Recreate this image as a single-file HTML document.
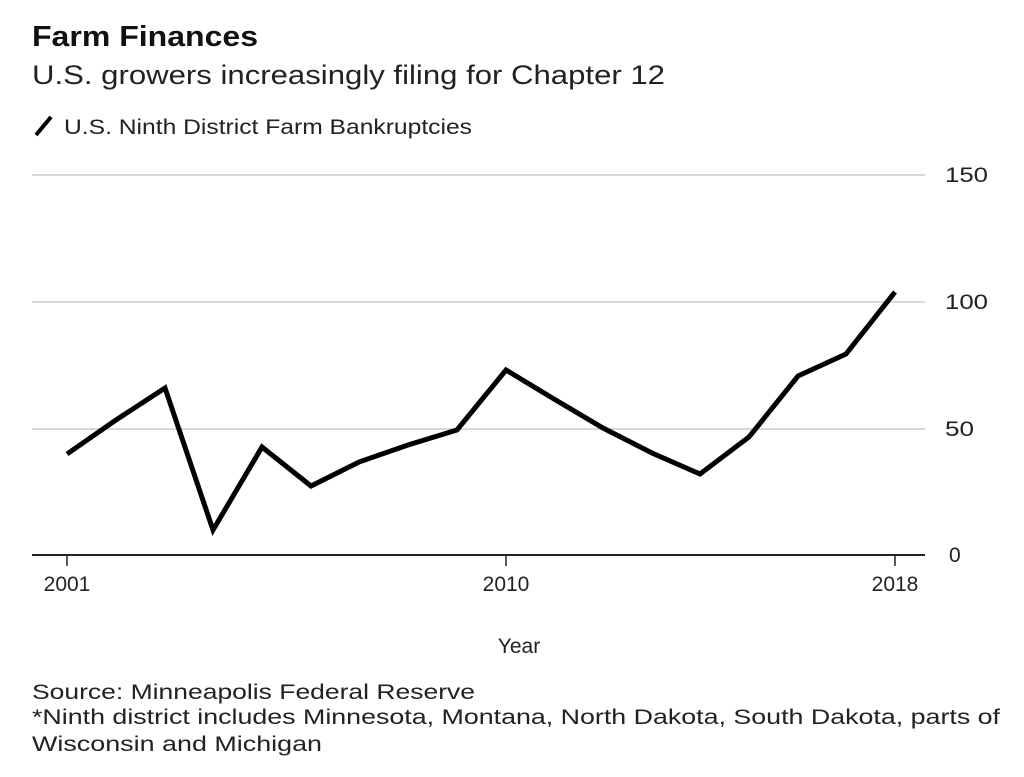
<!DOCTYPE html>
<html><head><style>
body{margin:0;background:#fff;width:1024px;height:772px;overflow:hidden;font-family:"Liberation Sans",sans-serif;color:#111}
</style></head><body>
<svg width="1024" height="772" xmlns="http://www.w3.org/2000/svg" font-family="Liberation Sans, sans-serif">
<text x="32" y="46" font-size="29" font-weight="bold" fill="#111" textLength="226" lengthAdjust="spacingAndGlyphs">Farm Finances</text>
<text x="32" y="84" font-size="27" fill="#222" textLength="633" lengthAdjust="spacingAndGlyphs">U.S. growers increasingly filing for Chapter 12</text>
<line x1="36" y1="135" x2="51" y2="117" stroke="#000" stroke-width="4"/>
<text x="64" y="134" font-size="21" fill="#222" textLength="408" lengthAdjust="spacingAndGlyphs">U.S. Ninth District Farm Bankruptcies</text>
<g stroke="#d8d8d8" stroke-width="2">
<line x1="32" y1="175" x2="925" y2="175"/>
<line x1="32" y1="302" x2="925" y2="302"/>
<line x1="32" y1="429" x2="925" y2="429"/>
</g>
<line x1="32" y1="555" x2="925" y2="555" stroke="#222" stroke-width="2"/>
<g stroke="#222" stroke-width="1.5">
<line x1="67" y1="555" x2="67" y2="566"/>
<line x1="506" y1="555" x2="506" y2="566"/>
<line x1="895" y1="555" x2="895" y2="566"/>
</g>
<g font-size="21" fill="#222">
<text x="945" y="182" textLength="43" lengthAdjust="spacingAndGlyphs">150</text>
<text x="945" y="309" textLength="43" lengthAdjust="spacingAndGlyphs">100</text>
<text x="945" y="436" textLength="29" lengthAdjust="spacingAndGlyphs">50</text>
<text x="949" y="562">0</text>
<text x="67" y="591" text-anchor="middle">2001</text>
<text x="506" y="591" text-anchor="middle">2010</text>
<text x="895" y="591" text-anchor="middle">2018</text>
<text x="519" y="653" text-anchor="middle">Year</text>
<text x="32" y="699" textLength="443" lengthAdjust="spacingAndGlyphs">Source: Minneapolis Federal Reserve</text>
<text x="32" y="724" textLength="968" lengthAdjust="spacingAndGlyphs">*Ninth district includes Minnesota, Montana, North Dakota, South Dakota, parts of</text>
<text x="32" y="751" textLength="290" lengthAdjust="spacingAndGlyphs">Wisconsin and Michigan</text>
</g>
<polyline fill="none" stroke="#000" stroke-width="5" stroke-linejoin="miter" points="67,454 116,420 165,388 213,530 262,447 311,486 359,462 408,445 457,430 506,370 554,399 603,428 652,453 700,474 749,437 798,376 846,354 895,292"/>
</svg>
</body></html>
